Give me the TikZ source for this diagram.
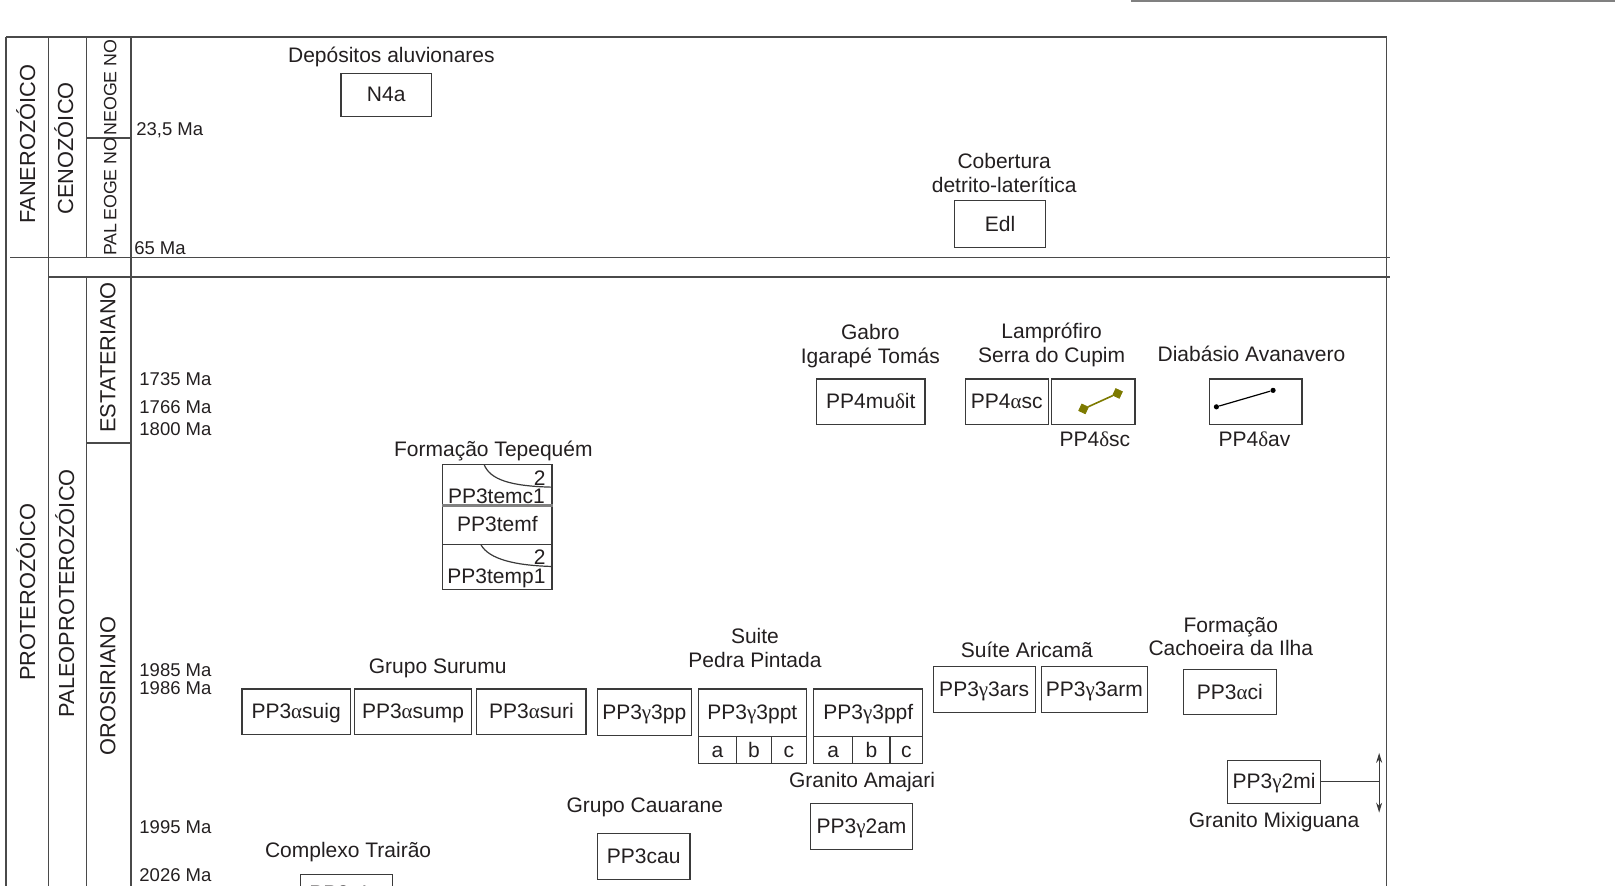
\documentclass[tikz,border=0pt]{standalone}
\usepackage{fontspec}
\setmainfont{Liberation Sans}
\newfontfamily\grk{Liberation Serif}
\usetikzlibrary{fit,arrows.meta}
\definecolor{lnc}{HTML}{3A3A3A}
\definecolor{frc}{HTML}{4A4A4A}
\definecolor{txc}{HTML}{231F20}
\definecolor{olv}{HTML}{7D7A00}
\begin{document}
\begin{tikzpicture}[x=0.515pt,y=-0.515pt,
  every node/.style={text=txc, inner sep=0pt, font=\fontsize{10.5pt}{11.9pt}\selectfont},
  fr/.style={draw=frc, line width=0.75pt},
  ln/.style={draw=lnc, line width=0.6pt},
  ubox/.style={draw=lnc, line width=0.6pt, inner sep=0pt},
  ut/.style={label={[text height=0.72em, text depth=0pt]center:#1}},
  lbl/.style={text height=0.72em, text depth=0pt},
  lbltwo/.style={align=center},
  ma/.style={anchor=west, font=\fontsize{9.25pt}{10pt}\selectfont, text height=0.72em, text depth=0pt},
  vt/.style={rotate=90, text height=0.72em, text depth=0pt, font=\fontsize{10.9pt}{12pt}\selectfont},
  vts/.style={rotate=90, text height=0.72em, text depth=0pt, font=\fontsize{8.9pt}{10pt}\selectfont},
  sq/.style={fill=olv, draw=olv, minimum size=3.6pt, rotate=-25},
  dot/.style={circle, fill=black, minimum size=2.6pt},
  rangearrow/.style={draw=lnc, line width=0.6pt, {Stealth[length=5pt,width=3pt]}-{Stealth[length=5pt,width=3pt]}}
]
\useasboundingbox (0,0) rectangle (1568,860);
\clip (0,0) rectangle (1568,860);

% ---------- frame / grid ----------
\draw[fr] (6,36) -- (1346,36) -- (1346,870);
\draw[fr] (6,36) -- (6,870);
\draw[fr] (47,36) -- (47,870);
\draw[fr] (84,36) -- (84,250);
\draw[fr] (84,269) -- (84,870);
\draw[fr] (127,36) -- (127,870);
\draw[fr] (84,134) -- (127,134);
\draw[fr] (84,430) -- (127,430);
\draw[fr] (10,250) -- (1350,250);
\draw[fr] (47,269) -- (1350,269);
\draw[draw=gray, line width=1.1pt] (1098,1) -- (1568,1);

% ---------- vertical headings ----------
\node[vt] (fan) at (27,140) {FANEROZÓICO};
\node[vt] (cen) at (64,144) {CENOZÓICO};
\node[vts] (neo) at (106,85) {NEOGE NO};
\node[vts] (pal) at (106,191) {PAL\,EOGE NO};
\node[vt] (pro) at (27,575) {PROTEROZÓICO};
\node[vt] (ppr) at (65,576) {PALEOPROTEROZÓICO};
\node[vt] (est) at (105,347) {ESTATERIANO};
\node[vt] (oro) at (105,666) {OROSIRIANO};

% ---------- ages ----------
\node[ma] (m1) at (132,125) {23,5 Ma};
\node[ma] (m2) at (130,240) {65 Ma};
\node[ma] (m3) at (135,367) {1735 Ma};
\node[ma] (m4) at (135,394) {1766 Ma};
\node[ma] (m5) at (135,416) {1800 Ma};
\node[ma] (m6) at (135,650) {1985 Ma};
\node[ma] (m7) at (135,667) {1986 Ma};
\node[ma] (m8) at (135,802) {1995 Ma};
\node[ma] (m9) at (135,849) {2026 Ma};

% ---------- labels ----------
\node[lbl] (ldep) at (380,54) {Depósitos aluvionares};
\node[lbltwo] (lcob) at (975,168) {Cobertura\\detrito-laterítica};
\node[lbltwo] (lgab) at (845,336) {Gabro\\Igarapé Tomás};
\node[lbltwo] (llam) at (1021,335) {Lamprófiro\\Serra do Cupim};
\node[lbl] (ldia) at (1215,344) {Diabásio Avanavero};
\node[lbl] (ldsc) at (1063,427) {PP4{\grk δ}sc};
\node[lbl] (ldav) at (1218,427) {PP4{\grk δ}av};
\node[lbl] (ltep) at (479,436) {Formação Tepequém};
\node[lbl] (lsur) at (425,647) {Grupo Surumu};
\node[lbltwo] (lppi) at (733,629) {Suite\\Pedra Pintada};
\node[lbl] (lari) at (997,631) {Suíte Aricamã};
\node[lbltwo] (lcil) at (1195,618) {Formação\\Cachoeira da Ilha};
\node[lbl] (lama) at (837,758) {Granito Amajari};
\node[lbl] (lcau) at (626,782) {Grupo Cauarane};
\node[lbl] (lmix) at (1237,796) {Granito Mixiguana};
\node[lbl] (ltra) at (338,826) {Complexo Trairão};

% ---------- unit boxes ----------
\node[ubox, fit={(331,71) (419,113)}, ut={N4a}] (n4a) {};
\node[ubox, fit={(927,195) (1015,240)}, ut={Edl}] (edl) {};
\node[ubox, fit={(793,368) (898,412)}, ut={PP4mu{\grk δ}it}] (mud) {};
\node[ubox, fit={(937,368) (1018,412)}, ut={PP4{\grk α}sc}] (asc) {};
\node[ubox, fit={(1021,368) (1102,412)}] (dsc) {};
\node[ubox, fit={(1174,368) (1264,412)}] (dav) {};

% dike symbols
\node[sq] (dsa) at (1052,397) {};
\node[sq] (dsb) at (1085,382) {};
\draw[draw=olv, line width=0.8pt] (dsa) -- (dsb);
\node[dot] (dva) at (1181,395) {};
\node[dot] (dvb) at (1236,379) {};
\draw[line width=0.6pt] (dva) -- (dvb);

% Tepequem column
\node[ubox, fit={(430,451) (536,490)}] (temc) {};
\node[ubox, fit={(430,490) (536,529)}, ut={PP3temf}] (temf) {};
\node[ubox, fit={(430,529) (536,572)}] (temp) {};
\draw[draw=gray, line width=1.3pt] (temc.south west) -- (temc.south east);
\draw[ln] (470,451) .. controls (476,466) and (496,472) .. (536,473);
\draw[ln] (467,529) .. controls (475,543) and (500,549) .. (536,550);
\node[anchor=base east] (two1) at (530,471) {2};
\node[anchor=base east] (two2) at (530,548.5) {2};
\node[anchor=base] (temct) at (482,488.5) {PP3temc1};
\node[anchor=base] (tempt) at (482,567) {PP3temp1};

% Surumu etc.
\node[ubox, fit={(235,669) (340,713)}, ut={PP3{\grk α}suig}] (suig) {};
\node[ubox, fit={(344,669) (458,713)}, ut={PP3{\grk α}sump}] (sump) {};
\node[ubox, fit={(463,669) (569,713)}, ut={PP3{\grk α}suri}] (suri) {};
\node[ubox, fit={(580,669) (671,714)}, ut={PP3{\grk γ}3pp}] (pp) {};
\node[ubox, fit={(678,669) (783,715)}, ut={PP3{\grk γ}3ppt}] (ppt) {};
\node[ubox, fit={(678,715) (715,741)}, ut={a}] (ppta) {};
\node[ubox, fit={(715,715) (749,741)}, ut={b}] (pptb) {};
\node[ubox, fit={(749,715) (783,741)}, ut={c}] (pptc) {};
\node[ubox, fit={(790,669) (896,715)}, ut={PP3{\grk γ}3ppf}] (ppf) {};
\node[ubox, fit={(790,715) (828,741)}, ut={a}] (ppfa) {};
\node[ubox, fit={(828,715) (864,741)}, ut={b}] (ppfb) {};
\node[ubox, fit={(864,715) (896,741)}, ut={c}] (ppfc) {};
\node[ubox, fit={(906,647) (1005,692)}, ut={PP3{\grk γ}3ars}] (ars) {};
\node[ubox, fit={(1011,647) (1114,692)}, ut={PP3{\grk γ}3arm}] (arm) {};
\node[ubox, fit={(1149,650) (1239,694)}, ut={PP3{\grk α}ci}] (aci) {};
\node[ubox, fit={(1192,738) (1282,780)}, ut={PP3{\grk γ}2mi}] (mi) {};
\node[ubox, fit={(787,780) (886,825)}, ut={PP3{\grk γ}2am}] (am) {};
\node[ubox, fit={(580,809) (670,854)}, ut={PP3cau}] (cau) {};
\node[ubox, fit={(292,849) (381,893)}] (tr) {};
\node[lbl] (trt) at (336,867) {PP3{\grk γ}1tr};

% Mixiguana range arrow
\coordinate (mt) at (1339,731);
\coordinate (mb) at (1339,789);
\draw[rangearrow] (mt) -- (mb);
\draw[ln] (mi.east) -- (mi.east -| mt);
\end{tikzpicture}
\end{document}
